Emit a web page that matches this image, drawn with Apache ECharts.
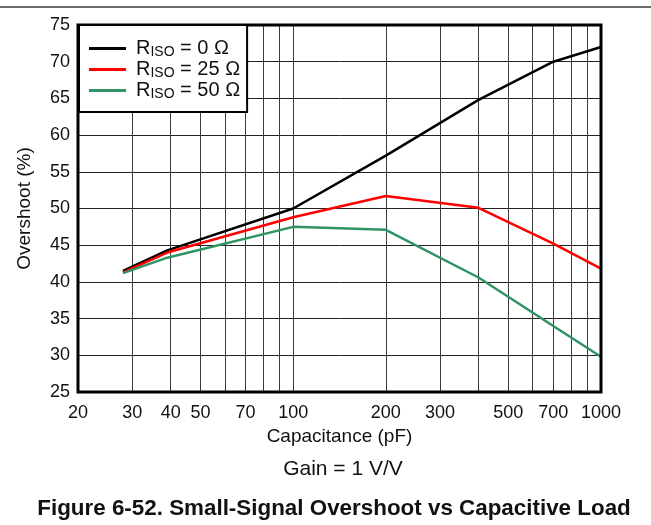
<!DOCTYPE html>
<html>
<head>
<meta charset="utf-8">
<script src="https://cdn.jsdelivr.net/npm/echarts@6/dist/echarts.min.js"></script>
<style>
  html, body { margin: 0; padding: 0; background: #fff; }
  #chart { width: 651px; height: 525px; }
</style>
</head>
<body>
<div id="chart"></div>
<script>
// capacitance points (pF) and overshoot (%)
var capacitance = [28, 39, 100, 200, 400, 700, 1000];
var riso0 = [41.5, 44.3, 50.0, 57.2, 64.8, 70.0, 72.0];
var riso25 = [41.3, 44.0, 48.8, 51.7, 50.1, 45.2, 41.8];
var riso50 = [41.2, 43.3, 47.5, 47.1, 40.6, 34.0, 29.8];

var seriesNames = ['0', '25', '50'];
var xTickLabels = [20, 30, 40, 50, 70, 100, 200, 300, 500, 700, 1000];
var xGridValues = [20, 30, 40, 50, 60, 70, 80, 90, 100, 200, 300, 400, 500, 600, 700, 800, 900, 1000];

var FONT = 'Liberation Sans, Arial, sans-serif';

function pairs(vals) {
    return capacitance.map(function(c, i) { return [c, vals[i]]; });
}

// vertical grid lines (log spaced) with the tick labels under them
var gridLines = xGridValues.map(function(v) {
    return {
        xAxis: v,
        label: {
            show: xTickLabels.indexOf(v) >= 0,
            position: 'start',
            distance: 12,
            formatter: String(v),
            color: '#111',
            fontSize: 18,
            fontFamily: FONT
        }
    };
});

var colors = ['#000000', '#ff0000', '#2f9363'];
var values = [riso0, riso25, riso50];

var series = seriesNames.map(function(n, i) {
    var s = {
        name: n,
        type: 'line',
        data: pairs(values[i]),
        symbol: 'none',
        z: 5,
        lineStyle: { color: colors[i], width: 2.5 },
        itemStyle: { color: colors[i] }
    };
    if (i === 0) {
        s.markLine = {
            silent: true,
            symbol: 'none',
            animation: false,
            lineStyle: { color: '#3a3a3a', width: 1, type: 'solid' },
            data: gridLines
        };
    }
    return s;
});

var chart = echarts.init(document.getElementById('chart'));
chart.setOption({
    animation: false,
    backgroundColor: '#fff',
    textStyle: { fontFamily: FONT },
    grid: {
        left: 78, right: 50, top: 25, bottom: 133,
        show: true, borderColor: '#000', borderWidth: 3, backgroundColor: 'transparent', z: 6
    },
    graphic: [
        { type: 'line', shape: { x1: 0, y1: 7, x2: 651, y2: 7 }, style: { stroke: '#6a6a6a', lineWidth: 2 } },
        { type: 'text', x: 343, y: 469, style: { text: 'Gain = 1 V/V', font: '21px Liberation Sans, Arial', fill: '#111', textAlign: 'center', textVerticalAlign: 'middle' } },
        { type: 'text', x: 334, y: 509, style: { text: 'Figure 6-52. Small-Signal Overshoot vs Capacitive Load', font: 'bold 22.4px Liberation Sans, Arial', fill: '#111', textAlign: 'center', textVerticalAlign: 'middle' } }
    ],
    legend: {
        orient: 'vertical',
        left: 79, top: 25,
        backgroundColor: '#fff',
        borderColor: '#000',
        borderWidth: 2,
        borderRadius: 0,
        padding: [13, 7, 11, 10],
        itemWidth: 37,
        itemHeight: 3,
        itemGap: 0,
        icon: 'rect',
        z: 10,
        formatter: function(name) {
            return '{a|R}{s|ISO}{r| = ' + name + ' \u03A9}';
        },
        textStyle: {
            fontSize: 20,
            rich: {
                a: { fontSize: 20, lineHeight: 21, color: '#111', fontFamily: FONT, padding: [0, 0, 0, 5] },
                r: { fontSize: 20, lineHeight: 21, color: '#111', fontFamily: FONT },
                s: { fontSize: 14, lineHeight: 14, color: '#111', fontFamily: FONT, padding: [7, 0, 0, 0] }
            }
        }
    },
    xAxis: {
        type: 'log',
        logBase: 10,
        min: 20,
        max: 1000,
        name: 'Capacitance (pF)',
        nameLocation: 'middle',
        nameGap: 35,
        nameTextStyle: { fontSize: 19, color: '#111', fontFamily: FONT },
        axisLine: { show: false },
        axisTick: { show: false },
        axisLabel: { show: false },
        splitLine: { show: false }
    },
    yAxis: {
        type: 'value',
        min: 25,
        max: 75,
        interval: 5,
        name: 'Overshoot (%)',
        nameLocation: 'middle',
        nameGap: 44,
        nameTextStyle: { fontSize: 19, color: '#111', fontFamily: FONT },
        axisLine: { show: false },
        axisTick: { show: false },
        axisLabel: { fontSize: 18, color: '#111', margin: 8 },
        splitLine: { show: true, lineStyle: { color: '#222', width: 1 } }
    },
    series: series
});
</script>
</body>
</html>
